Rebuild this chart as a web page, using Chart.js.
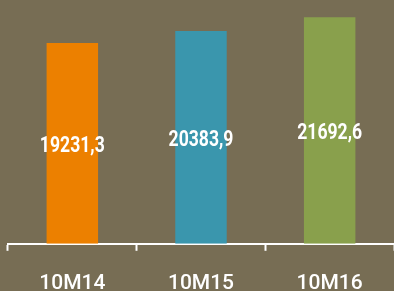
<!DOCTYPE html>
<html>
<head>
<meta charset="utf-8">
<script src="https://cdn.jsdelivr.net/npm/chart.js@4/dist/chart.umd.min.js"></script>
<style>
  html, body { margin: 0; padding: 0; background: #776d54; overflow: hidden; }
  #wrap { width: 394px; height: 316px; position: relative; }
</style>
</head>
<body>
<div id="wrap"><canvas id="canvas"></canvas></div>
<script>
var categories = ['10M14', '10M15', '10M16'];
var values = [19231.3, 20383.9, 21692.6];
var barColors = ['#ec8000', '#3a96ad', '#89a04c'];

var labelFont = 'Roboto, "DejaVu Sans", sans-serif';

// draw the value in the middle of each bar, squeezed a bit like the original condensed face
var valueLabels = {
  id: 'valueLabels',
  afterDatasetsDraw: function(chart) {
    var ctx = chart.ctx;
    var meta = chart.getDatasetMeta(0);
    ctx.save();
    ctx.fillStyle = '#ffffff';
    ctx.font = 'bold 22px ' + labelFont;
    ctx.textAlign = 'center';
    ctx.textBaseline = 'middle';
    meta.data.forEach(function(bar, i) {
      var txt = values[i].toFixed(1).replace('.', ',');
      ctx.save();
      ctx.translate(bar.x, (bar.y + bar.base) / 2 + 3);
      ctx.scale(0.8, 1);
      ctx.fillText(txt, 0, 0);
      ctx.restore();
    });
    ctx.restore();
  }
};

var config = {
  type: 'bar',
  data: {
    labels: categories,
    datasets: [{
      data: values,
      backgroundColor: barColors,
      borderWidth: 0,
      categoryPercentage: 0.8,
      barPercentage: 0.5
    }]
  },
  options: {
    responsive: true,
    maintainAspectRatio: false,
    animation: false,
    layout: { padding: { left: 8, right: 0, top: 14, bottom: 0 } },
    plugins: {
      legend: { display: false },
      tooltip: { enabled: false }
    },
    scales: {
      y: {
        display: false,
        min: 0,
        max: 22000
      },
      x: {
        offset: true,
        grid: {
          drawOnChartArea: false,
          drawTicks: true,
          tickLength: 7,
          tickWidth: 2,
          tickColor: '#ffffff',
          offset: true
        },
        border: { display: true, color: '#ffffff', width: 2 },
        ticks: {
          color: '#ffffff',
          padding: 20,
          font: { family: labelFont, size: 21, weight: '500' }
        }
      }
    }
  },
  plugins: [valueLabels]
};

window.onload = function() {
  window.myBar = new Chart(document.getElementById('canvas'), config);
};
</script>
</body>
</html>
